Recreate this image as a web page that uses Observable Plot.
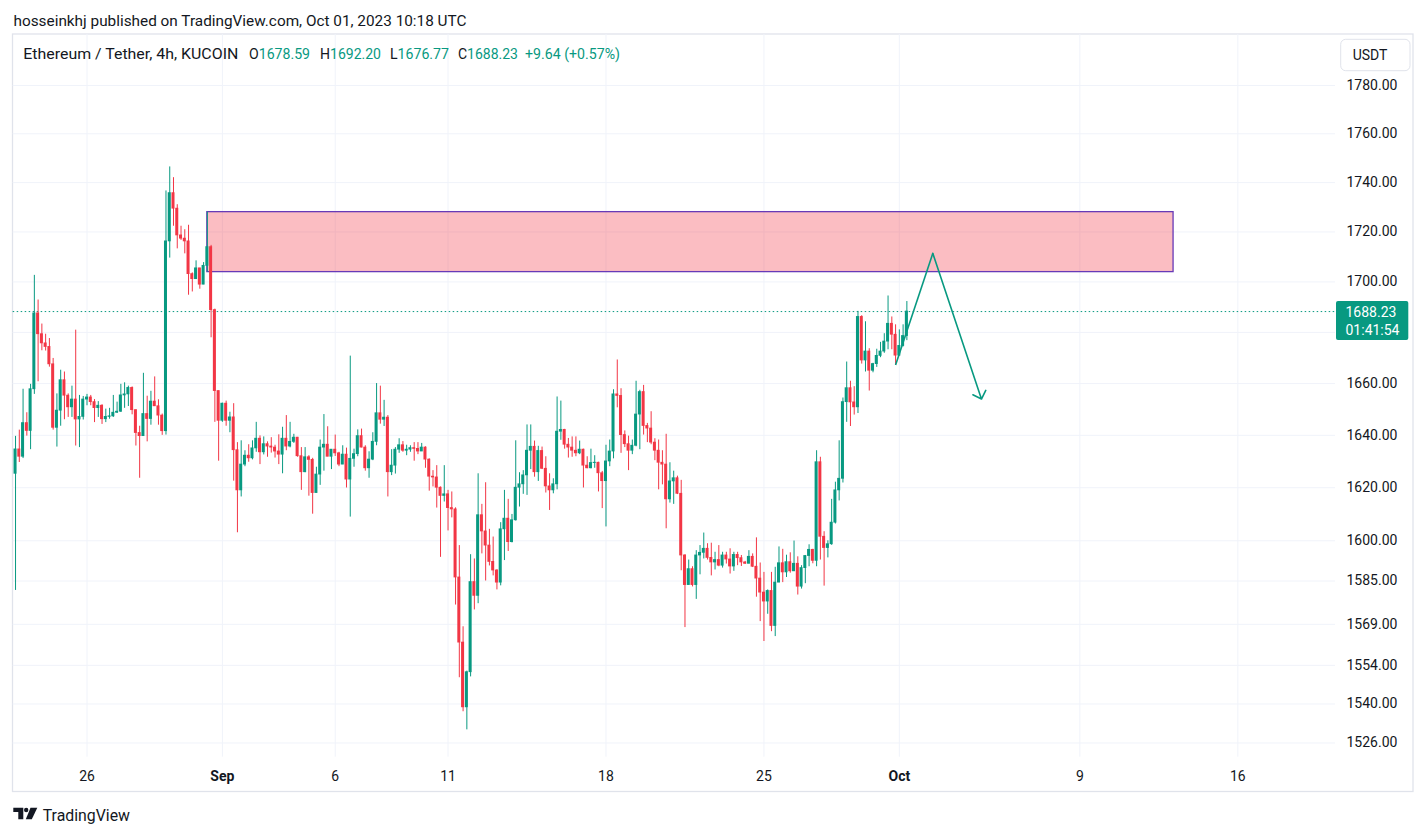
<!DOCTYPE html>
<html><head><meta charset="utf-8">
<script src="https://cdn.jsdelivr.net/npm/d3@7"></script>
<script src="https://cdn.jsdelivr.net/npm/@observablehq/plot@0.6"></script>
<style>
html,body{margin:0;padding:0;background:#fff;}
#wrap{position:relative;width:1426px;height:836px;overflow:hidden;}
#wrap svg{position:absolute;left:0;top:0;}
</style></head><body><div id="wrap"></div>
<script>
// ETH/USDT 4h KUCOIN, bars from 2023-08-22 20:00 UTC to 2023-10-01 08:00 UTC
const firstBar = Date.UTC(2023, 7, 22, 20);
const barMs = 4 * 3600 * 1000;
const opens = [1625.3,1634.6,1631.8,1644.7,1641.7,1657.8,1687.5,1679.3,1675.7,1674.3,1667.5,1642.9,1649.5,1661.3,1655.3,1650.8,1653.8,1646.1,1647.1,1653.8,1654.6,1652.8,1650.5,1651.4,1646.2,1647.1,1647.3,1648.7,1649.1,1655.4,1655.8,1658.3,1649.7,1640.9,1639.7,1648.2,1646.3,1653.0,1651.2,1647.6,
1641.6,1716.2,1735.7,1729.4,1718.6,1717.3,1716.2,1703.1,1701.1,1705.4,1698.9,1706.4,1713.9,1688.8,1657.1,1645.6,1652.2,1645.6,1646.9,1634.3,1619.0,1628.8,1632.2,1631.2,1635.0,1638.7,1633.5,1636.6,1635.7,1635.3,1633.8,1632.6,1638.7,1635.7,1637.5,1639.1,1632.0,1625.9,1631.6,1630.6,
1618.0,1625.0,1635.3,1636.4,1631.8,1634.5,1633.1,1628.8,1632.6,1623.1,1631.0,1632.8,1639.7,1635.3,1627.4,1630.7,1637.5,1648.5,1646.0,1646.8,1625.9,1628.4,1634.5,1636.2,1634.1,1634.5,1635.1,1634.8,1633.8,1635.3,1630.7,1624.2,1623.9,1620.0,1616.9,1617.5,1612.3,1611.8,1586.3,1562.3,
1538.8,1551.5,1584.6,1579.5,1609.6,1603.5,1598.2,1592.1,1588.9,1584.4,1604.3,1608.3,1599.5,1607.7,1620.0,1621.3,1624.7,1634.1,1635.6,1625.9,1634.0,1627.2,1620.5,1619.0,1621.3,1641.4,1642.1,1636.4,1635.3,1634.1,1633.1,1634.5,1628.4,1627.4,1629.4,1629.5,1625.5,1622.5,1630.0,1633.8,
1655.8,1655.2,1640.1,1636.6,1634.1,1636.0,1648.0,1656.7,1643.6,1642.6,1637.2,1634.1,1629.5,1628.8,1615.6,1622.4,1623.6,1617.7,1594.5,1583.5,1589.4,1583.5,1594.5,1595.5,1597.0,1593.6,1591.9,1592.8,1590.7,1594.5,1593.0,1590.4,1594.7,1593.5,1591.9,1591.4,1594.0,1590.3,1585.9,1580.7,
1577.4,1581.3,1568.4,1584.4,1591.6,1588.2,1592.0,1588.6,1591.4,1582.9,1589.8,1594.3,1596.6,1592.5,1629.7,1601.5,1597.3,1598.7,1606.8,1619.0,1623.4,1652.8,1658.2,1652.7,1650.8,1686.1,1669.0,1672.5,1665.0,1667.6,1670.8,1672.5,1676.4,1683.4,1679.1,1670.9,1674.7,1678.59];
const highs = [1639.6,1642.0,1657.8,1648.7,1659.7,1702.6,1692.8,1683.3,1679.3,1677.6,1669.8,1656.0,1665.2,1664.5,1656.0,1659.0,1680.9,1655.4,1655.0,1655.8,1655.4,1653.8,1653.0,1651.8,1650.1,1650.4,1655.4,1652.8,1659.7,1660.3,1659.0,1658.7,1649.8,1643.5,1664.0,1655.1,1657.0,1662.6,1653.7,1648.2,
1736.6,1746.4,1742.0,1731.0,1722.3,1720.9,1722.7,1703.6,1708.4,1705.4,1707.7,1728.0,1714.6,1689.2,1657.1,1652.4,1653.2,1648.9,1652.2,1637.2,1637.9,1634.1,1636.4,1637.9,1645.0,1639.8,1639.4,1637.5,1639.1,1636.2,1640.2,1643.1,1647.6,1645.0,1640.4,1639.2,1635.3,1635.3,1632.2,1631.2,
1627.8,1638.2,1648.0,1643.3,1634.5,1640.1,1633.5,1636.0,1635.1,1670.7,1634.7,1642.1,1642.4,1636.0,1633.7,1641.0,1660.0,1659.0,1653.5,1647.6,1634.5,1635.3,1638.7,1637.6,1636.2,1636.0,1637.2,1637.2,1636.9,1635.6,1631.0,1626.5,1628.4,1620.3,1628.4,1619.0,1618.4,1612.4,1598.2,1568.1,
1551.9,1594.8,1593.2,1625.3,1613.7,1621.9,1604.3,1601.4,1589.2,1606.8,1619.0,1615.6,1609.9,1637.9,1625.7,1626.5,1644.0,1644.0,1637.8,1635.8,1635.5,1631.8,1625.3,1623.4,1654.8,1653.2,1642.3,1638.8,1639.4,1639.4,1637.8,1634.7,1631.8,1634.7,1632.2,1629.7,1626.2,1636.2,1638.2,1657.6,
1669.2,1658.0,1641.7,1639.7,1638.2,1660.9,1657.4,1659.3,1644.6,1649.1,1638.7,1638.2,1634.1,1640.4,1629.5,1626.3,1624.4,1622.8,1594.8,1592.8,1590.3,1596.3,1598.2,1602.9,1598.9,1599.1,1595.7,1598.2,1595.7,1595.7,1597.0,1595.7,1595.7,1594.5,1592.3,1596.3,1595.1,1601.1,1591.7,1588.2,
1581.7,1588.2,1590.1,1597.7,1596.8,1594.6,1595.5,1599.9,1594.0,1590.7,1594.5,1598.5,1596.8,1634.1,1631.6,1603.4,1600.0,1615.6,1622.1,1637.9,1654.4,1668.4,1660.9,1658.8,1688.3,1686.6,1684.2,1673.6,1667.9,1673.4,1676.1,1679.5,1694.4,1686.1,1683.0,1681.0,1683.0,1692.20];
const lows = [1581.5,1629.6,1631.1,1639.7,1634.5,1655.8,1660.7,1672.8,1672.7,1666.4,1642.0,1635.5,1643.5,1646.0,1646.9,1646.9,1635.9,1635.3,1645.9,1651.4,1651.4,1644.9,1646.9,1644.2,1644.9,1646.2,1646.9,1648.4,1648.8,1650.4,1651.1,1647.9,1635.9,1623.6,1639.7,1637.5,1643.9,1651.1,1643.9,1640.0,
1640.1,1709.5,1722.3,1713.2,1716.6,1711.2,1694.7,1696.0,1701.1,1697.1,1698.9,1703.9,1677.9,1645.0,1630.1,1645.0,1643.5,1641.0,1622.5,1603.0,1616.5,1628.0,1629.7,1630.6,1633.5,1628.8,1632.5,1631.6,1633.2,1631.3,1628.8,1625.3,1634.1,1635.2,1636.9,1631.6,1619.0,1625.7,1616.8,1610.0,
1618.0,1620.9,1626.3,1631.8,1626.9,1631.9,1628.0,1628.8,1619.9,1608.9,1627.8,1631.8,1635.2,1626.3,1623.6,1630.3,1636.0,1644.3,1643.4,1616.5,1624.6,1625.2,1633.1,1633.5,1632.2,1633.5,1630.1,1632.6,1633.8,1627.4,1618.7,1620.3,1612.3,1593.8,1614.6,1603.7,1608.6,1576.1,1549.5,1537.2,
1530.7,1549.8,1574.3,1576.6,1595.1,1585.0,1590.6,1586.9,1581.7,1583.2,1592.6,1596.0,1599.2,1607.4,1612.7,1617.5,1617.1,1626.9,1624.0,1622.4,1626.9,1618.0,1611.4,1617.7,1619.2,1638.1,1634.7,1631.3,1631.6,1631.8,1632.6,1619.9,1627.2,1627.2,1627.4,1618.4,1612.1,1605.2,1628.0,1631.0,
1650.6,1633.1,1635.3,1626.5,1632.6,1635.6,1634.5,1640.1,1637.2,1636.4,1630.3,1619.2,1621.1,1604.5,1614.2,1613.7,1617.4,1588.8,1567.8,1583.5,1582.8,1578.2,1587.3,1593.2,1592.8,1586.9,1589.1,1590.3,1589.8,1591.3,1587.6,1588.6,1590.7,1590.4,1591.2,1591.4,1590.0,1579.0,1570.0,1562.7,
1572.7,1566.3,1564.5,1584.4,1584.4,1586.3,1587.9,1588.6,1579.8,1582.0,1584.0,1590.3,1591.4,1590.3,1592.8,1583.1,1593.6,1598.3,1606.3,1615.0,1621.8,1645.0,1643.4,1647.8,1648.4,1667.6,1664.5,1657.1,1664.2,1666.3,1670.1,1671.8,1673.2,1673.2,1667.2,1670.8,1674.3,1676.77];
const closes = [1634.6,1631.8,1644.7,1641.7,1657.8,1687.5,1679.3,1675.7,1674.3,1667.5,1642.9,1649.5,1661.3,1655.3,1650.8,1653.8,1646.1,1647.1,1653.8,1654.6,1652.8,1650.5,1651.4,1646.2,1647.1,1647.3,1648.7,1649.1,1655.4,1655.8,1658.3,1649.7,1640.9,1639.7,1648.2,1646.3,1653.0,1651.2,1647.6,1641.6,
1716.2,1735.7,1729.4,1718.6,1717.3,1716.2,1703.1,1701.1,1705.4,1698.9,1706.4,1713.9,1688.8,1657.1,1645.6,1652.2,1645.6,1646.9,1634.3,1619.0,1628.8,1632.2,1631.2,1635.0,1638.7,1633.5,1636.6,1635.7,1635.3,1633.8,1632.6,1638.7,1635.7,1637.5,1639.1,1632.0,1625.9,1631.6,1630.6,1618.0,
1625.0,1635.3,1636.4,1631.8,1634.5,1633.1,1628.8,1632.6,1623.1,1631.0,1632.8,1639.7,1635.3,1627.4,1630.7,1637.5,1648.5,1646.0,1646.8,1625.9,1628.4,1634.5,1636.2,1634.1,1634.5,1635.1,1634.8,1633.8,1635.3,1630.7,1624.2,1623.9,1620.0,1616.9,1617.5,1612.3,1611.8,1586.3,1562.3,1538.8,
1551.5,1584.6,1579.5,1609.6,1603.5,1598.2,1592.1,1588.9,1584.4,1604.3,1608.3,1599.5,1607.7,1620.0,1621.3,1624.7,1634.1,1635.6,1625.9,1634.0,1627.2,1620.5,1619.0,1621.3,1641.4,1642.1,1636.4,1635.3,1634.1,1633.1,1634.5,1628.4,1627.4,1629.4,1629.5,1625.5,1622.5,1630.0,1633.8,1655.8,
1655.2,1640.1,1636.6,1634.1,1636.0,1648.0,1656.7,1643.6,1642.6,1637.2,1634.1,1629.5,1628.8,1615.6,1622.4,1623.6,1617.7,1594.5,1583.5,1589.4,1583.5,1594.5,1595.5,1597.0,1593.6,1591.9,1592.8,1590.7,1594.5,1593.0,1590.4,1594.7,1593.5,1591.9,1591.4,1594.0,1590.3,1585.9,1580.7,1577.4,
1581.3,1568.4,1584.4,1591.6,1588.2,1592.0,1588.6,1591.4,1582.9,1589.8,1594.3,1596.6,1592.5,1629.7,1601.5,1597.3,1598.7,1606.8,1619.0,1623.4,1652.8,1658.2,1652.7,1650.8,1686.1,1669.0,1672.5,1665.0,1667.6,1670.8,1672.5,1676.4,1683.4,1679.1,1670.9,1674.7,1678.59,1688.23];

// price axis ticks and time axis ticks
const yTicks = [1526,1540,1554,1569,1585,1600,1620,1640,1660,1680,1700,1720,1740,1760,1780];
const xTickDates = ["2023-08-26","2023-09-01","2023-09-06","2023-09-11","2023-09-18","2023-09-25","2023-10-01","2023-10-09","2023-10-16"];
const xTickLabels = ["26","Sep","6","11","18","25","Oct","9","16"];
const xTickBold = [false,true,false,false,false,false,true,false,false];

// drawings: supply zone rectangle and projected path arrow
const zoneTimes = ["2023-08-31T08:00Z","2023-10-13T03:40Z"];
const zonePrices = [1703.9, 1728.0];
const pathTimes = ["2023-09-30T20:00Z","2023-10-02T11:36Z","2023-10-04T15:20Z"];
const pathPrices = [1667.2, 1711.4, 1654.0];

// legend
const legendTitle = "Ethereum / Tether, 4h, KUCOIN";
const lastClose = closes[closes.length - 1];
const countdown = "01:41:54";

const GREEN = "#089981", RED = "#F23645", TXT = "#131722", GRID = "#f0f3fa", BORDER = "#e0e3eb";
const FONT = "Roboto, 'Liberation Sans', Arial, sans-serif";

const W = 1426, H = 836;
const paneL = 12.7, paneR = 1335, paneT = 34, paneB = 756.7;
const dayMs = 864e5;
const refDay = Date.UTC(2023, 7, 26), refPx = 86.5, pxPerDay = 22.565;
const xDomain = [new Date(refDay - (refPx - paneL) / pxPerDay * dayMs), new Date(refDay + (paneR - refPx) / pxPerDay * dayMs)];
const yDomain = [1520.93, 1801.4];

const bars = closes.map((c, i) => ({
  t: new Date(firstBar + i * barMs), open: opens[i], high: highs[i], low: lows[i], close: c,
  color: c >= opens[i] ? GREEN : RED
}));
const zone = [{x1: new Date(zoneTimes[0]), x2: new Date(zoneTimes[1]), y1: zonePrices[0], y2: zonePrices[1]}];
const leg1 = [{x1: new Date(pathTimes[0]), y1: pathPrices[0], x2: new Date(pathTimes[1]), y2: pathPrices[1]}];
const leg2 = [{x1: new Date(pathTimes[1]), y1: pathPrices[1], x2: new Date(pathTimes[2]), y2: pathPrices[2]}];
const tickObjs = xTickDates.map((d, i) => ({t: new Date(d + "T00:00Z"), label: xTickLabels[i], bold: xTickBold[i]}));
const labelOf = new Map(tickObjs.map(o => [+o.t, o.label]));
const regTicks = tickObjs.filter(o => !o.bold).map(o => o.t);
const boldTicks = tickObjs.filter(o => o.bold).map(o => o.t);

const chart = Plot.plot({
  width: W, height: H,
  marginLeft: paneL, marginRight: W - paneR, marginTop: paneT, marginBottom: H - paneB,
  x: {type: "utc", domain: xDomain, label: null},
  y: {type: "log", domain: yDomain, label: null},
  color: {type: "identity"},
  style: {fontFamily: FONT, color: TXT, background: "transparent", overflow: "visible"},
  marks: [
    Plot.gridY(yTicks, {stroke: GRID, strokeOpacity: 1, strokeWidth: 1}),
    Plot.gridX(tickObjs.map(o => o.t), {stroke: GRID, strokeOpacity: 1, strokeWidth: 1}),
    Plot.rect(zone, {x1: "x1", x2: "x2", y1: "y1", y2: "y2", fill: RED, fillOpacity: 0.33, stroke: "#673ab7", strokeWidth: 1.3}),
    Plot.ruleY([lastClose], {stroke: GREEN, strokeWidth: 1, strokeDasharray: "1.5,2.5"}),
    Plot.ruleX(bars, {x: "t", y1: "low", y2: "high", stroke: "color", strokeWidth: 1}),
    Plot.rect(bars, {
      x1: d => new Date(+d.t - 0.4 * barMs), x2: d => new Date(+d.t + 0.4 * barMs),
      y1: "open", y2: "close", fill: "color", insetTop: -0.4, insetBottom: -0.4
    }),
    Plot.link(leg1, {x1: "x1", y1: "y1", x2: "x2", y2: "y2", stroke: GREEN, strokeWidth: 1.6}),
    Plot.arrow(leg2, {x1: "x1", y1: "y1", x2: "x2", y2: "y2", stroke: GREEN, strokeWidth: 1.6, headLength: 9, headAngle: 90}),
    Plot.axisY(yTicks, {anchor: "right", tickSize: 0, tickPadding: 11, tickFormat: d => d.toFixed(2), fontSize: 14, fill: TXT}),
    Plot.axisX(regTicks, {anchor: "bottom", tickSize: 0, tickPadding: 13.4, tickFormat: d => labelOf.get(+d), fontSize: 14, fill: TXT}),
    Plot.axisX(boldTicks, {anchor: "bottom", tickSize: 0, tickPadding: 13.4, tickFormat: d => labelOf.get(+d), fontSize: 14, fontWeight: "bold", fill: TXT})
  ]
});
document.getElementById("wrap").appendChild(chart);

// overlays: frame, header, legend, currency button, last price label, logo
const svg = d3.select(chart);
const yS = chart.scale("y");
svg.insert("rect", ":first-child").attr("x", 12.5).attr("y", 34).attr("width", 1400.5).attr("height", 757.5)
  .attr("fill", "none").attr("stroke", BORDER).attr("stroke-width", 1.3);

const over = svg.append("g").attr("text-anchor", "start").attr("font-family", FONT);
const t = (x, y, size, str, fill, extra) => {
  const e = over.append("text").attr("x", x).attr("y", y).attr("text-anchor", "start").attr("font-size", size)
    .attr("fill", fill || TXT).text(str);
  if (extra) for (const k in extra) e.attr(k, extra[k]);
  return e;
};
t(13.5, 26, 15.5, "hosseinkhj published on TradingView.com, Oct 01, 2023 10:18 UTC", TXT, {textLength: 453, lengthAdjust: "spacingAndGlyphs"});
t(23.3, 59.3, 15.5, legendTitle, TXT, {textLength: 215, lengthAdjust: "spacingAndGlyphs"});

const prevClose = closes[closes.length - 2];
const chg = lastClose - prevClose;
const items = [
  {x: 249, w: 61, k: "O", v: opens[opens.length - 1].toFixed(2)},
  {x: 320, w: 61, k: "H", v: highs[highs.length - 1].toFixed(2)},
  {x: 390, w: 59, k: "L", v: lows[lows.length - 1].toFixed(2)},
  {x: 458, w: 60, k: "C", v: lastClose.toFixed(2)},
  {x: 525, w: 95, k: "", v: `+${chg.toFixed(2)} (+${(chg / prevClose * 100).toFixed(2)}%)`}
];
for (const it of items) {
  const e = over.append("text").attr("x", it.x).attr("y", 59.3).attr("text-anchor", "start").attr("font-size", 15)
    .attr("textLength", it.w).attr("lengthAdjust", "spacingAndGlyphs");
  if (it.k) e.append("tspan").attr("fill", TXT).text(it.k);
  e.append("tspan").attr("fill", GREEN).text(it.v);
}

over.append("rect").attr("x", 1340.7).attr("y", 39.3).attr("width", 69.3).attr("height", 31.4).attr("rx", 5)
  .attr("fill", "#fff").attr("stroke", BORDER).attr("stroke-width", 1);
t(1352.7, 60, 14, "USDT", TXT);

const py = yS.apply(lastClose);
over.append("rect").attr("x", 1336).attr("y", py - 10).attr("width", 72.3).attr("height", 39).attr("rx", 2).attr("fill", GREEN);
t(1345.5, py + 6, 14, lastClose.toFixed(2), "#fff");
t(1345.5, py + 23.5, 14, countdown, "#fff");

const logo = over.append("g").attr("fill", TXT);
logo.append("path").attr("d", "M13.3,807.7 H23.3 V819.3 H18.3 V812 H13.3 Z");
logo.append("circle").attr("cx", 26.2).attr("cy", 810).attr("r", 2.2);
logo.append("path").attr("d", "M30.5,807.7 H37.3 L31.8,819.3 H25.8 Z");
t(42.7, 821, 15.7, "TradingView", TXT, {textLength: 87.3, lengthAdjust: "spacingAndGlyphs"});
</script>
</body></html>
